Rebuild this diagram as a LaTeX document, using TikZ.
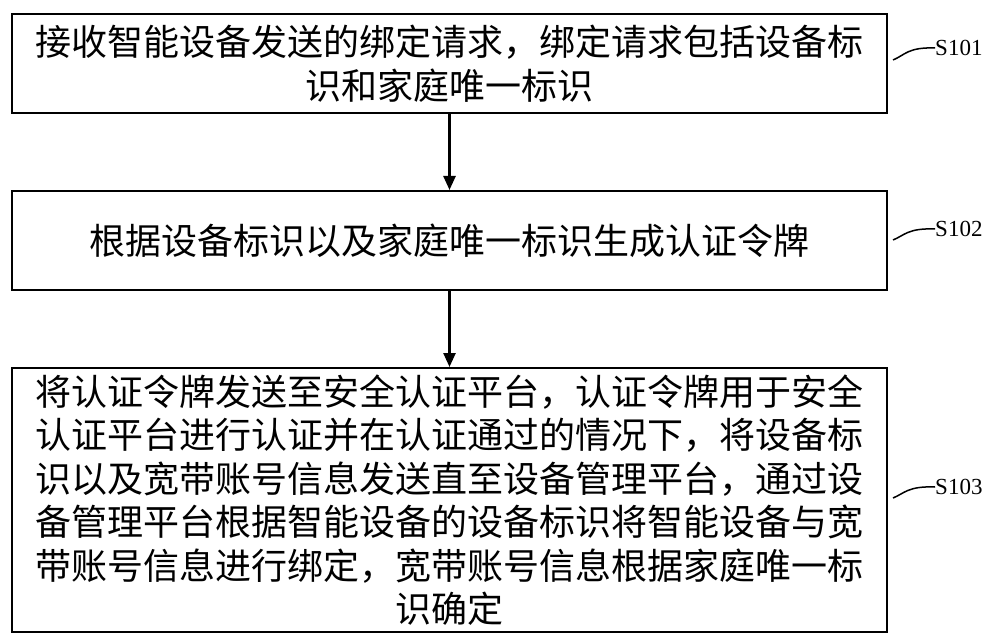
\documentclass[tikz,border=0pt]{standalone}
\usepackage{fontspec}
\newfontfamily\cjk{Noto Sans CJK SC}
\setmainfont{Liberation Serif}
\usetikzlibrary{arrows.meta}
\begin{document}
\begin{tikzpicture}[x=1pt,y=-1pt,
  stepbox/.style={draw,line width=2pt,inner sep=0pt,font=\cjk\fontsize{36}{43.5}\selectfont,align=center},
  conn/.style={line width=2.5pt,-{Triangle[length=14pt,width=12pt]}},
  lead/.style={line width=1.5pt},
  lab/.style={font=\fontsize{23}{26}\selectfont,anchor=west,inner sep=0pt}]
\useasboundingbox (0,0) rectangle (1000,644);
\node[stepbox,minimum width=875pt,minimum height=99pt] (b1) at (449.5,63.5) {接收智能设备发送的绑定请求，绑定请求包括设备标\\识和家庭唯一标识};
\node[stepbox,minimum width=875pt,minimum height=99pt] (b2) at (449.5,240.5) {根据设备标识以及家庭唯一标识生成认证令牌};
\node[stepbox,minimum width=875pt,minimum height=264pt] (b3) at (449.5,500) {将认证令牌发送至安全认证平台，认证令牌用于安全\\认证平台进行认证并在认证通过的情况下，将设备标\\识以及宽带账号信息发送直至设备管理平台，通过设\\备管理平台根据智能设备的设备标识将智能设备与宽\\带账号信息进行绑定，宽带账号信息根据家庭唯一标\\识确定};
\draw[conn] (b1.south) -- (b2.north);
\draw[conn] (b2.south) -- (b3.north);
\node[lab] (l1) at (935,48) {S101};
\node[lab] (l2) at (935,229) {S102};
\node[lab] (l3) at (935,487) {S103};
\coordinate (c1) at (893,60); \coordinate (c2) at (893,240); \coordinate (c3) at (893,498);
\draw[lead] (c1) .. controls (905,55) and (908,47) .. (l1.west);
\draw[lead] (c2) .. controls (905,235) and (908,228) .. (l2.west);
\draw[lead] (c3) .. controls (905,493) and (908,486) .. (l3.west);
\end{tikzpicture}
\end{document}
